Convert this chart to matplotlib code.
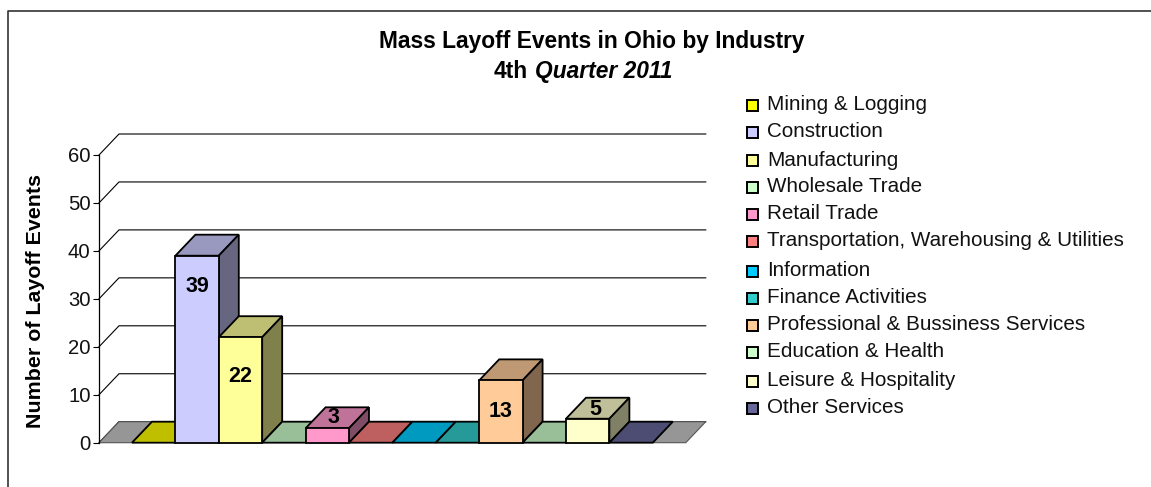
import matplotlib
matplotlib.use("Agg")
import matplotlib.pyplot as plt
from matplotlib.patches import Polygon, Rectangle
from matplotlib.colors import to_rgb

categories = ["Mining & Logging", "Construction", "Manufacturing", "Wholesale Trade",
              "Retail Trade", "Transportation, Warehousing & Utilities", "Information",
              "Finance Activities", "Professional & Bussiness Services",
              "Education & Health", "Leisure & Hospitality", "Other Services"]
values = [0, 39, 22, 0, 3, 0, 0, 0, 13, 0, 5, 0]
colors = ["#FFFF00", "#CCCCFF", "#FFFF99", "#CCFFCC", "#FF99CC", "#FF8080",
          "#00CCFF", "#33CCCC", "#FFCC99", "#CCFFCC", "#FFFFCC", "#666699"]
yticks = [0, 10, 20, 30, 40, 50, 60]
legend_rows_px = [105.5, 132, 160.5, 187.5, 214, 241, 271, 298, 325, 352, 381, 408]
# label placement (px offsets from bar's front-face centre x, px above baseline)
label_dx_px = [0, 0, 0, 0, 6, 0, 0, 0, 0, 0, 8, 0]
label_up_px = [0, 156, 66, 0, 25, 0, 0, 0, 31, 0, 33, 0]

W, H = 1151, 487
plt.rcParams["font.family"] = ["Liberation Sans", "DejaVu Sans"]
fig = plt.figure(figsize=(W / 100, H / 100), dpi=100)

ov = fig.add_axes([0, 0, 1, 1], zorder=3)
ov.set_xlim(0, W); ov.set_ylim(H, 0); ov.axis("off")

UNIT = 43.4; GAP = 0.76
X0, Y0, YTOP = 99, 442.7, 155
N = len(values)
xspan = 2 * GAP + N
ax = fig.add_axes([X0 / W, 1 - Y0 / H, xspan * UNIT / W, (Y0 - YTOP) / H], zorder=2)
ax.set_xlim(0, xspan); ax.set_ylim(0, 60)
ax.patch.set_visible(False)
for s in ["top", "right", "bottom"]:
    ax.spines[s].set_visible(False)
ax.spines["left"].set_linewidth(0.9)
ax.set_xticks([])
ax.set_yticks(yticks)
ax.tick_params(axis="y", length=4.1, width=0.8, labelsize=14.6, pad=2, labelcolor="#111111")

PX = (Y0 - YTOP) / 60  # pixels per value unit
DX = 20 / UNIT
DY = 21 / PX

def shade(c, k):
    return tuple(v * k for v in to_rgb(c))

kw = dict(clip_on=False, edgecolor="black")

for t in yticks:
    ax.plot([0, DX, xspan + DX], [t, t + DY, t + DY], color="black", lw=0.8,
            clip_on=False, zorder=1, solid_joinstyle="miter")

for x0, x1 in [(0, GAP), (GAP + N, xspan)]:
    ax.add_patch(Polygon([(x0, 0), (x1, 0), (x1 + DX, DY), (x0 + DX, DY)],
                         facecolor="#969696", lw=0.8, zorder=2, edgecolor="#555555", clip_on=False))

for i, (v, c) in enumerate(zip(values, colors)):
    x = GAP + i
    z = 3 + i * 0.01
    lw = 1.3
    ax.add_patch(Polygon([(x, v), (x + 1, v), (x + 1 + DX, v + DY), (x + DX, v + DY)],
                         facecolor=shade(c, 0.75), lw=lw, zorder=z, **kw))
    if v > 0:
        ax.add_patch(Polygon([(x + 1, 0), (x + 1 + DX, DY), (x + 1 + DX, v + DY), (x + 1, v)],
                             facecolor=shade(c, 0.5), lw=lw, zorder=z, **kw))
        ax.add_patch(Rectangle((x, 0), 1, v, facecolor=c, lw=lw, zorder=z, **kw))

for i, v in enumerate(values):
    if v > 0:
        ax.text(GAP + i + 0.5 + label_dx_px[i] / UNIT, label_up_px[i] / PX, str(v),
                ha="center", va="center", fontsize=15.5, fontweight="bold",
                color="black", zorder=10)

# titles
ov.text(592, 48.3, "Mass Layoff Events in Ohio by Industry", ha="center", va="baseline",
        fontsize=16.4, fontweight="bold")
ov.text(528, 78.3, "4th", ha="right", va="baseline", fontsize=16.4, fontweight="bold")
ov.text(535, 78.3, "Quarter 2011", ha="left", va="baseline", fontsize=16.4,
        fontweight="bold", style="italic")

# y-axis title
ov.text(36, 301.5, "Number of Layoff Events", rotation=90, ha="center", va="center",
        fontsize=15.4, fontweight="bold")

# frame
ov.plot([8.5, 8.5, W], [H, 11, 11], color="#333333", lw=1.2, clip_on=False)

# legend
for name, c, py in zip(categories, colors, legend_rows_px):
    ov.add_patch(Rectangle((747.5, py - 5.5), 11, 11, facecolor=c, edgecolor="black", lw=1.4))
    ov.text(767, py + 5, name, ha="left", va="baseline", fontsize=14.9, color="#111111")

fig.savefig("out.png", dpi=100, facecolor="white")
